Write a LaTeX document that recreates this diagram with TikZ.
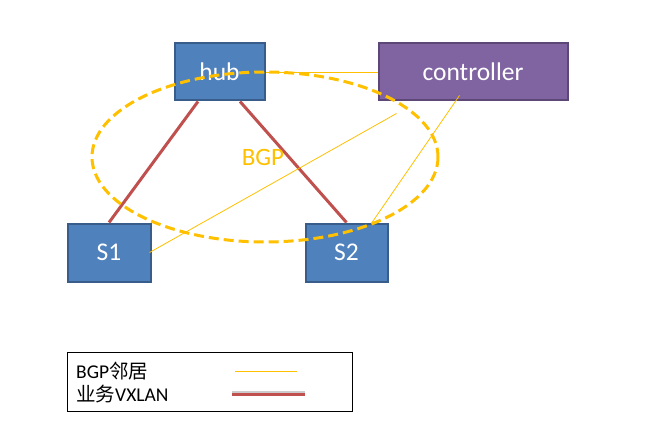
\documentclass[tikz,border=0pt]{standalone}
\usepackage{fontspec}
\setmainfont{Carlito}
\newfontfamily\cjk{Noto Sans CJK SC}
\definecolor{boxfill}{HTML}{4F81BD}
\definecolor{boxline}{HTML}{385D8A}
\definecolor{ctrlfill}{HTML}{8064A2}
\definecolor{ctrlline}{HTML}{5C4776}
\definecolor{bgpyellow}{HTML}{FFC000}
\definecolor{vxred}{HTML}{C0504D}
\tikzset{
  netbox/.style={draw=boxline, fill=boxfill, line width=2pt, text=white, font=\fontsize{25.5}{29}\selectfont, inner sep=0pt},
  ctrlbox/.style={draw=ctrlline, fill=ctrlfill, line width=2pt, text=white, font=\fontsize{25.5}{29}\selectfont, inner sep=0pt},
  vxlink/.style={draw=vxred, line width=3pt},
  bgplink/.style={draw=bgpyellow, line width=0.8pt},
  bgpring/.style={draw=bgpyellow, line width=3pt, dash pattern=on 10pt off 5pt},
  legtext/.style={anchor=west, font=\fontsize{19.5}{22}\selectfont, inner sep=0pt}
}
\begin{document}
\begin{tikzpicture}[x=1pt,y=-1pt]
\useasboundingbox (0,0) rectangle (649,444);
\node[netbox, minimum width=90pt, minimum height=57pt] (hub) at (219.5,72) {hub};
\node[ctrlbox, minimum width=189pt, minimum height=57pt] (ctrl) at (473,72) {controller};
\node[netbox, minimum width=83pt, minimum height=58pt] (S1) at (109,252.5) {S1};
\node[netbox, minimum width=82pt, minimum height=58pt] (S2) at (346.5,252.5) {S2};
% VXLAN links
\draw[vxlink] ([xshift=-21.5pt]hub.south) -- (S1.north);
\draw[vxlink] ([xshift=20.5pt]hub.south) -- (S2.north);
% BGP peer lines
\draw[bgplink] (hub.east) -- (ctrl.west);
\draw[bgplink] ([xshift=19pt,yshift=-12pt]ctrl.south west) -- ([xshift=-2pt]S1.east);
\draw[bgplink] ([xshift=82pt,yshift=6pt]ctrl.south west) -- ([xshift=25.5pt]S2.north);
% BGP ring
\draw[bgpring] (265,157) ellipse [x radius=173, y radius=85];
\node[text=bgpyellow, font=\fontsize{25}{29}\selectfont, inner sep=0pt] (bgp) at (263,157) {BGP};
% legend
\node[draw=black, line width=1pt, minimum width=285pt, minimum height=59pt, inner sep=0pt] (legend) at (209.5,381.5) {};
\node[legtext] (l1) at (76,371) {BGP{\cjk 邻居}};
\node[legtext] (l2) at (76,394) {{\cjk 业务}VXLAN};
\coordinate (y1a) at (235,371);
\coordinate (y1b) at (297,371);
\coordinate (r1a) at (232,394);
\coordinate (r1b) at (305,394);
\draw[bgplink, line width=0.7pt] (y1a) -- (y1b);
\draw[draw=black!20, line width=3pt] ([yshift=1.5pt]r1a) -- ([yshift=1.5pt]r1b);
\draw[vxlink] (r1a) -- (r1b);
\end{tikzpicture}
\end{document}
